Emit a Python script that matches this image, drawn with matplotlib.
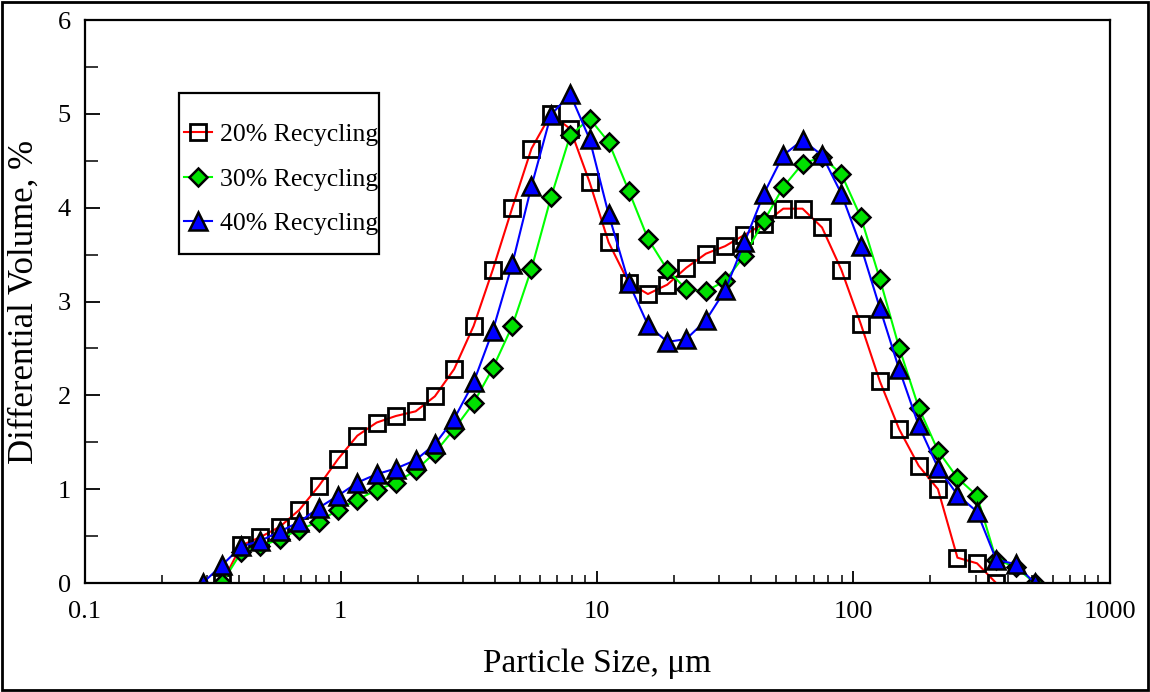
import matplotlib
matplotlib.use("Agg")
import matplotlib.pyplot as plt
from matplotlib.ticker import FixedLocator, FixedFormatter, NullFormatter
from matplotlib.patches import Rectangle

# ======================== DATA ========================
# particle size bins, um
sizes = [0.289, 0.344, 0.409, 0.486, 0.579, 0.689, 0.819, 0.975, 1.16, 1.38,
         1.64, 1.96, 2.33, 2.77, 3.30, 3.92, 4.67, 5.55, 6.61, 7.86,
         9.36, 11.1, 13.3, 15.8, 18.8, 22.3, 26.6, 31.6, 37.6, 44.8,
         53.3, 63.4, 75.5, 89.8, 107, 127, 151, 180, 214, 255,
         304, 361, 430, 511]

# differential volume, %
vol_20 = [0, 0.40, 0.49, 0.60, 0.78, 1.03, 1.32, 1.57, 1.71, 1.78,
          1.83, 1.99, 2.28, 2.74, 3.34, 4.00, 4.63, 5.00, 4.84, 4.27,
          3.63, 3.20, 3.08, 3.18, 3.36, 3.51, 3.59, 3.71, 3.83, 3.99,
          3.99, 3.79, 3.34, 2.76, 2.15, 1.64, 1.25, 1.00, 0.27, 0.21, 0]
vol_30 = [0, 0.33, 0.39, 0.47, 0.57, 0.65, 0.78, 0.89, 0.99, 1.07,
          1.20, 1.39, 1.64, 1.92, 2.29, 2.74, 3.35, 4.11, 4.77, 4.95,
          4.70, 4.18, 3.67, 3.34, 3.13, 3.11, 3.22, 3.49, 3.86, 4.22,
          4.47, 4.54, 4.36, 3.90, 3.24, 2.51, 1.87, 1.41, 1.12, 0.93,
          0.25, 0.17, 0]
vol_40 = [0, 0.19, 0.39, 0.45, 0.55, 0.65, 0.80, 0.93, 1.07, 1.16,
          1.22, 1.31, 1.48, 1.75, 2.14, 2.69, 3.40, 4.23, 4.99, 5.21,
          4.73, 3.93, 3.20, 2.75, 2.57, 2.60, 2.80, 3.12, 3.63, 4.15,
          4.56, 4.72, 4.56, 4.15, 3.59, 2.93, 2.28, 1.68, 1.23, 0.94,
          0.76, 0.25, 0.20, 0]

x_20 = sizes[1:42]
x_30 = sizes[1:44]
x_40 = sizes[0:44]

labels = ["20% Recycling", "30% Recycling", "40% Recycling"]
x_ticks = [0.1, 1, 10, 100, 1000]
x_tick_labels = ["0.1", "1", "10", "100", "1000"]
y_ticks = [0, 1, 2, 3, 4, 5, 6]

# ======================== PLOT ========================
plt.rcParams["font.family"] = ["Liberation Serif", "DejaVu Serif"]

fig = plt.figure(figsize=(11.5, 6.92), dpi=100)
ax = fig.add_axes([0.0735, 0.1575, 0.8913, 0.8135])

ax.plot(x_20, vol_20, color="#ff0000", lw=1.5, marker="s", ms=11.5,
        mfc="none", mec="black", mew=2.0, label=labels[0])
ax.plot(x_30, vol_30, color="#00ff00", lw=1.5, marker="D", ms=9,
        mfc="#00e000", mec="black", mew=1.8, label=labels[1])
ax.plot(x_40, vol_40, color="#0000ff", lw=1.5, marker="^", ms=13,
        mfc="#0000ff", mec="black", mew=1.8, label=labels[2])

ax.set_xscale("log")
ax.set_xlim(0.1, 1000)
ax.set_ylim(0, 6)

ax.xaxis.set_major_locator(FixedLocator(x_ticks))
ax.xaxis.set_major_formatter(FixedFormatter(x_tick_labels))
ax.xaxis.set_minor_formatter(NullFormatter())
ax.yaxis.set_major_locator(FixedLocator(y_ticks))
ax.yaxis.set_minor_locator(FixedLocator([0.5, 1.5, 2.5, 3.5, 4.5, 5.5]))

ax.tick_params(axis="x", which="major", direction="in", length=9, width=1.3,
               labelsize=19, pad=13, top=False)
ax.tick_params(axis="x", which="minor", direction="in", length=6, width=1.1, top=False)
ax.tick_params(axis="y", which="major", direction="in", length=11, width=1.3,
               labelsize=19, pad=10, right=False)
ax.tick_params(axis="y", which="minor", direction="in", length=9, width=1.1, right=False)

for s in ax.spines.values():
    s.set_linewidth(1.6)

ax.set_xlabel("Particle Size, μm", fontsize=24, labelpad=18)
ax.set_ylabel("Differential Volume, %", fontsize=25, labelpad=12)

# legend with its own frame
fig.patches.append(Rectangle((179 / 1150, 1 - 254 / 692), 200 / 1150, 161 / 692,
                             transform=fig.transFigure, fill=False,
                             edgecolor="black", lw=1.6))
ax.legend(loc="upper left", bbox_to_anchor=(171 / 1150, 1 - 110 / 692),
          bbox_transform=fig.transFigure, frameon=False, fontsize=18.5,
          handlelength=1.1, handletextpad=0.3, labelspacing=0.85, borderpad=0)

# outer border around the whole picture
fig.patches.append(Rectangle((0.002, 0.003), 0.996, 0.994, transform=fig.transFigure,
                             fill=False, edgecolor="black", lw=2))

plt.savefig("out.png", dpi=100)
